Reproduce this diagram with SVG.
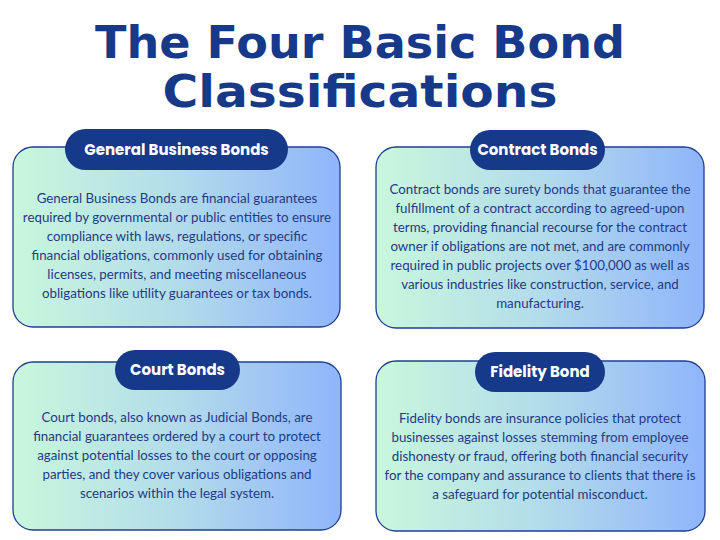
<svg xmlns="http://www.w3.org/2000/svg" width="720" height="540" viewBox="0 0 720 540">
<defs>
<linearGradient id="g" x1="0" y1="0" x2="1" y2="0"><stop offset="0" stop-color="#c9f7dc"/><stop offset="0.5" stop-color="#b3dcea"/><stop offset="1" stop-color="#8fb5fb"/></linearGradient>
<style>
.box{fill:url(#g);stroke:#1e3f91;stroke-width:1.3}
.pill{fill:#17398a}
.pt{font-family:Poppins,"Open Sans","Liberation Sans",sans-serif;font-weight:bold;font-size:15px;fill:#fff;text-anchor:middle}
.bt{font-family:Lato,"Liberation Sans",sans-serif;font-size:13.3px;fill:#1f3a85;text-anchor:middle}
.tt{font-family:"DejaVu Sans","Liberation Sans",sans-serif;font-weight:bold;font-size:44px;fill:#17398a;text-anchor:middle}
</style>
</defs>
<rect width="720" height="540" fill="#fff"/>
<text class="tt" x="360" y="58" textLength="530" lengthAdjust="spacingAndGlyphs">The Four Basic Bond</text>
<text class="tt" x="360" y="107" textLength="395" lengthAdjust="spacingAndGlyphs">Classifications</text>
<g id="general">
<rect class="box" x="13" y="147" width="327" height="180" rx="20"/>
<rect class="pill" x="65" y="129" width="223" height="41" rx="20.5"/>
<text class="pt" x="176.5" y="155">General Business Bonds</text>
<text class="bt" x="177" y="203">General Business Bonds are financial guarantees</text>
<text class="bt" x="177" y="222">required by governmental or public entities to ensure</text>
<text class="bt" x="177" y="241">compliance with laws, regulations, or specific</text>
<text class="bt" x="177" y="260">financial obligations, commonly used for obtaining</text>
<text class="bt" x="177" y="279">licenses, permits, and meeting miscellaneous</text>
<text class="bt" x="177" y="298">obligations like utility guarantees or tax bonds.</text>
</g>
<g id="contract">
<rect class="box" x="376" y="147" width="328" height="181" rx="20"/>
<rect class="pill" x="470" y="130" width="135" height="40" rx="20"/>
<text class="pt" x="537.5" y="155">Contract Bonds</text>
<text class="bt" x="540" y="194">Contract bonds are surety bonds that guarantee the</text>
<text class="bt" x="540" y="213">fulfillment of a contract according to agreed-upon</text>
<text class="bt" x="540" y="232">terms, providing financial recourse for the contract</text>
<text class="bt" x="540" y="251">owner if obligations are not met, and are commonly</text>
<text class="bt" x="540" y="270">required in public projects over $100,000 as well as</text>
<text class="bt" x="540" y="289">various industries like construction, service, and</text>
<text class="bt" x="540" y="308">manufacturing.</text>
</g>
<g id="court">
<rect class="box" x="13" y="362" width="328" height="168" rx="20"/>
<rect class="pill" x="115" y="350" width="125" height="40" rx="20"/>
<text class="pt" x="177.5" y="375">Court Bonds</text>
<text class="bt" x="177" y="422">Court bonds, also known as Judicial Bonds, are</text>
<text class="bt" x="177" y="441">financial guarantees ordered by a court to protect</text>
<text class="bt" x="177" y="460">against potential losses to the court or opposing</text>
<text class="bt" x="177" y="479">parties, and they cover various obligations and</text>
<text class="bt" x="177" y="498">scenarios within the legal system.</text>
</g>
<g id="fidelity">
<rect class="box" x="376" y="361" width="329" height="170" rx="20"/>
<rect class="pill" x="475" y="352" width="130" height="40" rx="20"/>
<text class="pt" x="540" y="377">Fidelity Bond</text>
<text class="bt" x="540" y="423">Fidelity bonds are insurance policies that protect</text>
<text class="bt" x="540" y="442">businesses against losses stemming from employee</text>
<text class="bt" x="540" y="461">dishonesty or fraud, offering both financial security</text>
<text class="bt" x="540" y="480">for the company and assurance to clients that there is</text>
<text class="bt" x="540" y="499">a safeguard for potential misconduct.</text>
</g>
<g id="connectors"/>
</svg>
